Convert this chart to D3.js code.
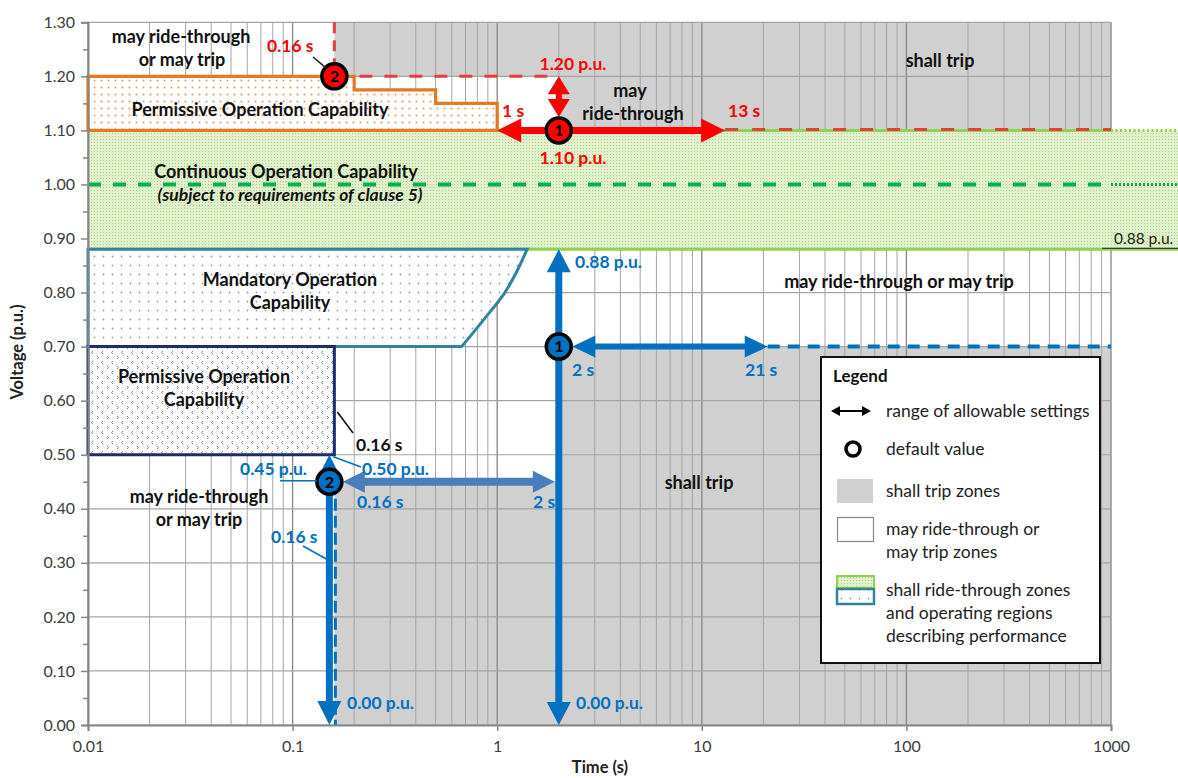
<!DOCTYPE html>
<html><head><meta charset="utf-8">
<script src="https://cdn.jsdelivr.net/npm/d3@7"></script>
<style>
html,body{margin:0;padding:0;background:#fff;}
svg{display:block;font-family:Lato,"Open Sans",sans-serif;}
</style></head><body>
<svg id="chart" width="1178" height="778"></svg>
<script>
// ---- axis ticks ----
const timeTicks = [0.01, 0.1, 1, 10, 100, 1000];
const timeTickLabels = ["0.01", "0.1", "1", "10", "100", "1000"];
const voltTicks = [0.00, 0.10, 0.20, 0.30, 0.40, 0.50, 0.60, 0.70, 0.80, 0.90, 1.00, 1.10, 1.20, 1.30];
const voltMinorTicks = [0.05, 0.15, 0.25, 0.35, 0.45, 0.55, 0.65, 0.75, 0.85, 0.95, 1.05, 1.15, 1.25];

// ---- default trip settings and allowable ranges ----
const ov1 = { t: 0.16, v: 1.20 };
const ov2 = { t: 2, v: 1.10, tMin: 1, tMax: 13, vMax: 1.20 };
const uv1 = { t: 2, v: 0.70, tMax: 21, vMin: 0.00, vMax: 0.88 };
const uv2 = { t: 0.16, v: 0.45, tMax: 2, vMin: 0.00, vMax: 0.50 };

// ---- zone outlines, [time (s), voltage (p.u.)] ----
const shallTripHigh = [[0.16, 1.30], [1000, 1.30], [1000, 1.10], [2, 1.10], [2, 1.20], [0.16, 1.20]];
const shallTripLow = [[0.16, 0.45], [2, 0.45], [2, 0.70], [1000, 0.70], [1000, 0.00], [0.16, 0.00]];
const continuousBand = [0.88, 1.10];
const nominalVoltage = 1.00;
const permissiveHigh = [[0.01, 1.20], [0.2, 1.20], [0.2, 1.175], [0.5, 1.175], [0.5, 1.15], [1, 1.15], [1, 1.10], [0.01, 1.10]];
const mandatoryEdge = [[1.4, 0.88], [1.25, 0.84], [1.09, 0.80], [0.86, 0.75], [0.67, 0.70]];
const mandatoryLeft = [[0.01, 0.70], [0.01, 0.88]];
const permissiveLow = [[0.01, 0.70], [0.16, 0.70], [0.16, 0.50], [0.01, 0.50]];

// ---- layout ----
const W = 1178, H = 778;
const plot = { left: 88, right: 1111, top: 22.3, bottom: 725 };
const x = d3.scaleLog().domain([0.01, 1000]).range([plot.left, plot.right]);
const y = d3.scaleLinear().domain([0, 1.3]).range([plot.bottom, plot.top]);

const RED = "#ff0000", RED_DASH = "#e2403c", BLUE = "#0070c0", STEEL = "#4a7ebb";
const GREEN_LINE = "#92d050", GREEN_DASH = "#00b050", ORANGE = "#e87722", TEAL = "#31849b", NAVY = "#1f2d6b";
const GREY = "#d0d0d0";
const ZONE = 18, VAL = 17.5;

const svg = d3.select("#chart");
const defs = svg.append("defs");

// fill textures
const pGreen = defs.append("pattern").attr("id", "texGreen").attr("patternUnits", "userSpaceOnUse").attr("width", 3).attr("height", 3);
pGreen.append("rect").attr("width", 3).attr("height", 3).attr("fill", "#e0f0cc");
pGreen.append("rect").attr("x", 1).attr("y", 1).attr("width", 1).attr("height", 1).attr("fill", "#abd582");

const pOrange = defs.append("pattern").attr("id", "texOrange").attr("patternUnits", "userSpaceOnUse").attr("width", 7).attr("height", 7);
pOrange.append("rect").attr("width", 7).attr("height", 7).attr("fill", "#fff");
pOrange.append("circle").attr("cx", 3.5).attr("cy", 3.5).attr("r", 1).attr("fill", "#eb9a5c");

const pTeal = defs.append("pattern").attr("id", "texTeal").attr("patternUnits", "userSpaceOnUse").attr("width", 9).attr("height", 9);
pTeal.append("rect").attr("width", 9).attr("height", 9).attr("fill", "#fff");
pTeal.append("circle").attr("cx", 4.5).attr("cy", 4.5).attr("r", 0.9).attr("fill", "#8ea3ab");

const pNavy = defs.append("pattern").attr("id", "texNavy").attr("patternUnits", "userSpaceOnUse").attr("width", 10).attr("height", 10);
pNavy.append("rect").attr("width", 10).attr("height", 10).attr("fill", "#fff");
pNavy.append("path").attr("d", "M3,1 L1.5,2.5 L3,4 M7,6 L8.5,7.5 L7,9").attr("fill", "none").attr("stroke", "#6675a3").attr("stroke-width", 0.9);

const pt = d => [x(d[0]), y(d[1])];
const poly = pts => "M" + pts.map(d => pt(d).join(",")).join("L") + "Z";

// ---- shall trip zones ----
svg.append("path").attr("d", poly(shallTripHigh)).attr("fill", GREY);
svg.append("path").attr("d", poly(shallTripLow)).attr("fill", GREY);

// ---- grid ----
const grid = svg.append("g");
grid.selectAll("line.v").data(x.ticks()).join("line")
  .attr("x1", d => x(d)).attr("x2", d => x(d)).attr("y1", plot.top).attr("y2", plot.bottom)
  .attr("stroke", d => timeTicks.includes(d) ? "#8c8c8c" : "#a4a4a4")
  .attr("stroke-width", d => timeTicks.includes(d) ? 1.4 : 1);
grid.selectAll("line.h").data(voltTicks).join("line")
  .attr("x1", plot.left).attr("x2", plot.right).attr("y1", d => y(d)).attr("y2", d => y(d))
  .attr("stroke", "#a4a4a4").attr("stroke-width", 1.2);

// ---- continuous operation band (runs past the axis edge) ----
svg.append("rect").attr("x", x(0.01)).attr("y", y(continuousBand[1]))
  .attr("width", W - x(0.01)).attr("height", y(continuousBand[0]) - y(continuousBand[1]))
  .attr("fill", "url(#texGreen)");
svg.append("line").attr("x1", x(0.01)).attr("x2", x(1000)).attr("y1", y(continuousBand[1])).attr("y2", y(continuousBand[1]))
  .attr("stroke", GREEN_LINE).attr("stroke-width", 3);
svg.append("line").attr("x1", x(1000)).attr("x2", W).attr("y1", y(continuousBand[1])).attr("y2", y(continuousBand[1]))
  .attr("stroke", GREEN_LINE).attr("stroke-width", 3).attr("stroke-dasharray", "2,2.5");
svg.append("line").attr("x1", x(0.01)).attr("x2", W).attr("y1", y(continuousBand[0])).attr("y2", y(continuousBand[0]))
  .attr("stroke", GREEN_LINE).attr("stroke-width", 3);
svg.append("line").attr("x1", x(0.01)).attr("x2", x(1000) - 8).attr("y1", y(nominalVoltage)).attr("y2", y(nominalVoltage))
  .attr("stroke", GREEN_DASH).attr("stroke-width", 4).attr("stroke-dasharray", "13,12");
svg.append("line").attr("x1", x(1000)).attr("x2", W).attr("y1", y(nominalVoltage)).attr("y2", y(nominalVoltage))
  .attr("stroke", GREEN_DASH).attr("stroke-width", 3).attr("stroke-dasharray", "2,2");
// 0.88 p.u. marker at the right
svg.append("line").attr("x1", x(1000) - 9).attr("x2", W).attr("y1", y(continuousBand[0]) - 1).attr("y2", y(continuousBand[0]) - 1)
  .attr("stroke", "#222").attr("stroke-width", 1);
svg.append("text").attr("x", x(1000) + 3).attr("y", y(continuousBand[0]) - 5).attr("font-size", 15.5).attr("fill", "#222").text("0.88 p.u.");

// ---- operating regions ----
svg.append("path").attr("d", poly(permissiveHigh)).attr("fill", "url(#texOrange)")
  .attr("stroke", ORANGE).attr("stroke-width", 3.2).attr("stroke-linejoin", "miter");

const edge = d3.line().x(d => x(d[0])).y(d => y(d[1])).curve(d3.curveCatmullRom)(mandatoryEdge);
const mandPath = "M" + pt(mandatoryLeft[1]).join(",") + edge.replace(/^M/, "L") + "L" + pt(mandatoryLeft[0]).join(",") + "Z";
svg.append("path").attr("d", mandPath).attr("fill", "url(#texTeal)").attr("stroke", TEAL).attr("stroke-width", 3);

svg.append("path").attr("d", poly(permissiveLow)).attr("fill", "url(#texNavy)").attr("stroke", NAVY).attr("stroke-width", 3);

// ---- boundary lines of trip settings ----
const dash = (x1, y1, x2, y2, color, w, da) =>
  svg.append("line").attr("x1", x1).attr("y1", y1).attr("x2", x2).attr("y2", y2)
    .attr("stroke", color).attr("stroke-width", w).attr("stroke-dasharray", da);
dash(x(ov1.t), y(1.30), x(ov1.t), y(ov1.v), RED_DASH, 3, "11,7");
dash(x(ov1.t), y(ov1.v), x(ov2.t), y(ov1.v), RED_DASH, 3, "13,12");
dash(x(ov2.tMax), y(ov2.v) - 1, x(1000), y(ov2.v) - 1, RED_DASH, 3, "13,14");
dash(x(uv1.tMax), y(uv1.v), x(1000), y(uv1.v), BLUE, 4, "12,8");
dash(x(uv2.t) + 1, y(uv2.v), x(uv2.t) + 1, y(0), BLUE, 3, "12,5");

// ---- arrows ----
function arrowPath(p1, p2, w, L, Hh, headStart, headEnd) {
  const dx = p2[0] - p1[0], dy = p2[1] - p1[1], len = Math.hypot(dx, dy);
  const ux = dx / len, uy = dy / len, nx = -uy, ny = ux;
  const bs = headStart ? [p1[0] + ux * L, p1[1] + uy * L] : p1;
  const be = headEnd ? [p2[0] - ux * L, p2[1] - uy * L] : p2;
  const off = (p, d) => [p[0] + nx * d, p[1] + ny * d];
  const pts = [];
  if (headStart) pts.push(p1, off(bs, Hh));
  pts.push(off(bs, w / 2), off(be, w / 2));
  if (headEnd) pts.push(off(be, Hh), p2, off(be, -Hh));
  pts.push(off(be, -w / 2), off(bs, -w / 2));
  if (headStart) pts.push(off(bs, -Hh));
  return "M" + pts.map(p => p.join(",")).join("L") + "Z";
}
const arrow = (p1, p2, color, w, L, Hh, hs = true, he = true) =>
  svg.append("path").attr("d", arrowPath(p1, p2, w, L, Hh, hs, he)).attr("fill", color);

const R = 12.5;          // marker radius
const uv2x = x(uv2.t) - 5; // UV2 arrow sits just left of its boundary line

// overvoltage ranges
arrow([x(ov2.tMin), y(ov2.v)], [x(ov2.tMax), y(ov2.v)], RED, 7, 24, 12);
arrow([x(ov2.t), y(ov2.vMax)], [x(ov2.t), y(ov2.v) - R - 1], RED, 6, 18, 11);
// undervoltage ranges
arrow([x(uv1.t), y(uv1.vMax)], [x(uv1.t), y(uv1.vMin)], BLUE, 7, 23, 12);
arrow([x(uv1.t) + R + 1, y(uv1.v)], [x(uv1.tMax), y(uv1.v)], BLUE, 6, 23, 11);
arrow([uv2x + R + 1, y(uv2.v)], [x(uv2.tMax) - 4, y(uv2.v)], STEEL, 8, 22, 11);
arrow([uv2x, y(uv2.vMax)], [uv2x, y(uv2.vMin)], BLUE, 7, 24, 12);

// ---- default value markers ----
function marker(cx, cy, fill, label) {
  const g = svg.append("g").attr("transform", `translate(${cx},${cy})`);
  g.append("circle").attr("r", R).attr("fill", fill).attr("stroke", "#000").attr("stroke-width", 3.5);
  g.append("text").attr("text-anchor", "middle").attr("dy", "0.36em").attr("font-size", 16)
    .attr("font-weight", 700).attr("fill", "#000").text(label);
}
marker(x(ov1.t), y(ov1.v), RED, "2");
marker(x(ov2.t), y(ov2.v), RED, "1");
marker(x(uv1.t), y(uv1.v), BLUE, "1");
marker(uv2x, y(uv2.v), BLUE, "2");

// ---- labels ----
function txt(s, tx, ty, o = {}) {
  return svg.append("text").attr("x", tx).attr("y", ty)
    .attr("text-anchor", o.anchor || "middle")
    .attr("font-size", o.size || ZONE)
    .attr("font-weight", o.weight || 700)
    .attr("font-style", o.italic ? "italic" : "normal")
    .attr("fill", o.color || "#111").text(s);
}
const leader = (x1, y1, x2, y2, color) =>
  svg.append("line").attr("x1", x1).attr("y1", y1).attr("x2", x2).attr("y2", y2).attr("stroke", color).attr("stroke-width", 1.6);

// zone names
txt("may ride-through", 181, 43);
txt("or may trip", 182, 66);
txt("Permissive Operation Capability", 260, 116);
txt("Continuous Operation Capability", 286, 178);
txt("(subject to requirements of clause 5)", 290, 201, { size: 17.5, italic: true });
txt("may", 630, 97);
txt("ride-through", 633, 120);
txt("shall trip", 940, 67);
txt("Mandatory Operation", 290, 286);
txt("Capability", 290, 309);
txt("may ride-through or may trip", 899, 288);
txt("Permissive Operation", 204, 383);
txt("Capability", 204, 406);
txt("shall trip", 699, 489);
txt("may ride-through", 199, 503);
txt("or may trip", 199, 526);

// overvoltage annotations
txt("0.16 s", 267, 52, { anchor: "start", color: RED, size: VAL });
leader(313, 57, x(ov1.t) - 9, y(ov1.v) - 9, "#222");
txt("1.20 p.u.", 573, 70, { color: RED, size: VAL });
txt("1 s", 502, 117, { anchor: "start", color: RED, size: VAL });
txt("13 s", 728, 117, { anchor: "start", color: RED, size: VAL });
txt("1.10 p.u.", 573, 164, { color: RED, size: VAL });

// undervoltage annotations
txt("0.88 p.u.", 575, 268, { anchor: "start", color: BLUE, size: VAL });
txt("2 s", 572, 376, { anchor: "start", color: BLUE, size: VAL });
txt("21 s", 745, 376, { anchor: "start", color: BLUE, size: VAL });
txt("0.16 s", 356, 451, { anchor: "start", size: VAL });
leader(x(0.16) + 3, 412, 353, 433, "#111");
txt("0.45 p.u.", 240, 475, { anchor: "start", color: BLUE, size: VAL });
leader(280, y(uv2.v) - 1, uv2x - R, y(uv2.v) - 1, BLUE);
txt("0.50 p.u.", 362, 475, { anchor: "start", color: BLUE, size: VAL });
leader(361, 467, uv2x + 4, y(uv2.vMax) + 2, BLUE);
txt("0.16 s", 357, 508, { anchor: "start", color: BLUE, size: VAL });
txt("2 s", 533, 508, { anchor: "start", color: BLUE, size: VAL });
txt("0.16 s", 271, 543, { anchor: "start", color: BLUE, size: VAL });
leader(303, 546, uv2x - 3, 559, BLUE);
txt("0.00 p.u.", 347, 709, { anchor: "start", color: BLUE, size: VAL });
txt("0.00 p.u.", 576, 709, { anchor: "start", color: BLUE, size: VAL });

// ---- axes ----
const axCol = "#868686";
svg.append("g").attr("transform", `translate(${plot.left},0)`)
  .call(d3.axisLeft(y).tickValues(voltTicks).tickFormat(d3.format(".2f")).tickSize(7).tickPadding(6));
svg.append("g").attr("transform", `translate(${plot.left},0)`)
  .call(d3.axisLeft(y).tickValues(voltMinorTicks).tickFormat("").tickSize(5))
  .call(g => g.select(".domain").remove());
svg.append("g").attr("transform", `translate(0,${plot.bottom})`)
  .call(d3.axisBottom(x).tickValues(timeTicks).tickFormat((d, i) => timeTickLabels[i]).tickSize(6).tickPadding(10));
svg.selectAll(".domain").attr("stroke", axCol).attr("stroke-width", 2);
svg.selectAll(".tick line").attr("stroke", axCol).attr("stroke-width", 1.5);
svg.selectAll(".tick text").attr("font-family", "Lato, sans-serif").attr("font-size", 16).attr("fill", "#3c3c3c");

svg.append("text").attr("x", 600).attr("y", 773).attr("text-anchor", "middle")
  .attr("font-size", 16.5).attr("font-weight", 700).attr("fill", "#222").text("Time (s)");
svg.append("text").attr("transform", "translate(23,352) rotate(-90)").attr("text-anchor", "middle")
  .attr("font-size", 16.5).attr("font-weight", 700).attr("fill", "#222").text("Voltage (p.u.)");

// ---- legend ----
const lg = svg.append("g");
lg.append("rect").attr("x", 821).attr("y", 357).attr("width", 279).attr("height", 306)
  .attr("fill", "#fff").attr("stroke", "#111").attr("stroke-width", 2);
lg.append("text").attr("x", 833).attr("y", 382).attr("font-size", 17).attr("font-weight", 700).attr("fill", "#111").text("Legend");
lg.append("path").attr("d", arrowPath([831, 411], [871, 411], 2.2, 9, 5, true, true)).attr("fill", "#000");
lg.append("circle").attr("cx", 853).attr("cy", 449).attr("r", 7).attr("fill", "none").attr("stroke", "#000").attr("stroke-width", 3.5);
lg.append("rect").attr("x", 837).attr("y", 479).attr("width", 36).attr("height", 24).attr("fill", GREY);
lg.append("rect").attr("x", 837.5).attr("y", 517.5).attr("width", 36).attr("height", 24).attr("fill", "#fff").attr("stroke", "#888").attr("stroke-width", 1.2);
lg.append("rect").attr("x", 837).attr("y", 576).attr("width", 37).attr("height", 12).attr("fill", "url(#texGreen)").attr("stroke", GREEN_LINE).attr("stroke-width", 2);
lg.append("rect").attr("x", 837).attr("y", 589).attr("width", 37).attr("height", 15).attr("fill", "url(#texTeal)").attr("stroke", TEAL).attr("stroke-width", 2.5);
const legendLines = [
  ["range of allowable settings", 417], ["default value", 455], ["shall trip zones", 497],
  ["may ride-through or", 535], ["may trip zones", 558],
  ["shall ride-through zones", 596], ["and operating regions", 619], ["describing performance", 642]
];
lg.selectAll("text.item").data(legendLines).join("text").attr("class", "item")
  .attr("x", 886).attr("y", d => d[1]).attr("font-size", 17.5).attr("fill", "#222").text(d => d[0]);
</script>
</body></html>
